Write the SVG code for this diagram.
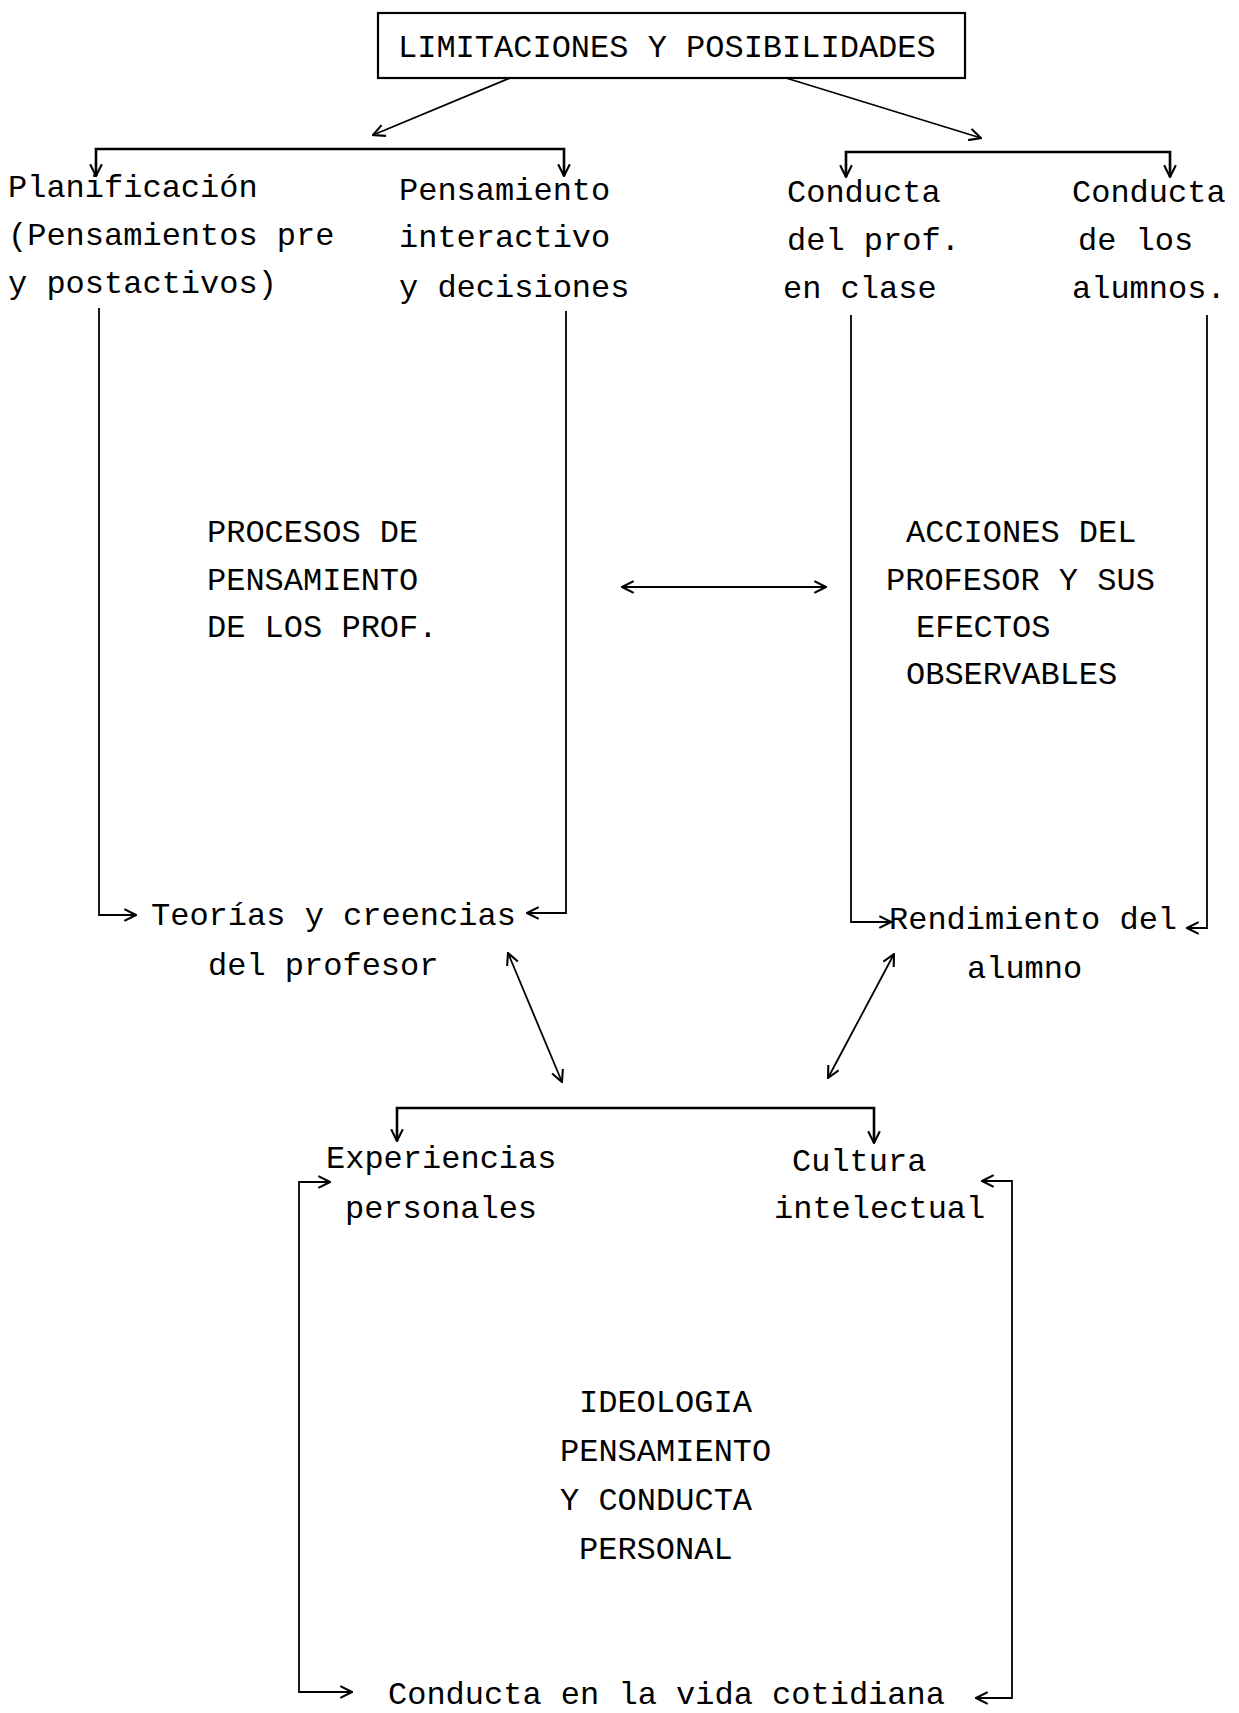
<svg xmlns="http://www.w3.org/2000/svg" width="1239" height="1713" viewBox="0 0 1239 1713">
<defs>
<marker id="ah" viewBox="0 0 12 12" refX="11" refY="6" markerWidth="14" markerHeight="14" markerUnits="userSpaceOnUse" orient="auto-start-reverse">
<path d="M1,1 L11,6 L1,11" fill="none" stroke="#000" stroke-width="1.8"/>
</marker>
</defs>
<style>
text{font-family:"Liberation Mono","DejaVu Sans Mono",monospace;font-size:32px;fill:#000}
.c{fill:none;stroke:#000;stroke-width:1.8}
.b{fill:none;stroke:#000;stroke-width:2.6}
.box{fill:#fff;stroke:#000;stroke-width:2.2}
</style>
<rect width="1239" height="1713" fill="#fff"/>
<g id="connectors">
<line class="c" x1="515" y1="76" x2="373" y2="135" marker-end="url(#ah)"/>
<line class="c" x1="786" y1="78" x2="981" y2="138" marker-end="url(#ah)"/>
<path class="b" d="M96 176 V149 H564 V176" marker-start="url(#ah)" marker-end="url(#ah)"/>
<path class="b" d="M846 177 V152 H1170 V177" marker-start="url(#ah)" marker-end="url(#ah)"/>
<path class="c" d="M99 308 V915 H136" marker-end="url(#ah)"/>
<path class="c" d="M566 311 V913 H527" marker-end="url(#ah)"/>
<path class="c" d="M851 315 V922 H891" marker-end="url(#ah)"/>
<path class="c" d="M1207 315 V928 H1187" marker-end="url(#ah)"/>
<line class="c" x1="622" y1="587" x2="826" y2="587" marker-start="url(#ah)" marker-end="url(#ah)"/>
<line class="c" x1="508" y1="953" x2="562" y2="1082" marker-start="url(#ah)" marker-end="url(#ah)"/>
<line class="c" x1="894" y1="954" x2="828" y2="1078" marker-start="url(#ah)" marker-end="url(#ah)"/>
<path class="b" d="M397 1141 V1108 H874 V1143" marker-start="url(#ah)" marker-end="url(#ah)"/>
<path class="c" d="M330 1182 H299 V1692 H352" marker-start="url(#ah)" marker-end="url(#ah)"/>
<path class="c" d="M982 1181 H1012 V1698 H976" marker-start="url(#ah)" marker-end="url(#ah)"/>
</g>
<g id="n-title">
<rect class="box" x="378" y="13" width="587" height="65"/>
<text x="398" y="57">LIMITACIONES Y POSIBILIDADES</text>
</g>
<g id="n-planificacion">
<text x="8" y="197">Planificación</text>
<text x="8" y="245">(Pensamientos pre</text>
<text x="8" y="293">y postactivos)</text>
</g>
<g id="n-pensamiento">
<text x="399" y="200">Pensamiento</text>
<text x="399" y="247">interactivo</text>
<text x="399" y="297">y decisiones</text>
</g>
<g id="n-conducta-prof">
<text x="787" y="202">Conducta</text>
<text x="787" y="250">del prof.</text>
<text x="783" y="298">en clase</text>
</g>
<g id="n-conducta-alumnos">
<text x="1072" y="202">Conducta</text>
<text x="1078" y="250">de los</text>
<text x="1072" y="298">alumnos.</text>
</g>
<g id="n-procesos">
<text x="207" y="542">PROCESOS DE</text>
<text x="207" y="590">PENSAMIENTO</text>
<text x="207" y="637">DE LOS PROF.</text>
</g>
<g id="n-acciones">
<text x="906" y="542">ACCIONES DEL</text>
<text x="886" y="590">PROFESOR Y SUS</text>
<text x="916" y="637">EFECTOS</text>
<text x="906" y="684">OBSERVABLES</text>
</g>
<g id="n-teorias">
<text x="151" y="925">Teorías y creencias</text>
<text x="208" y="975">del profesor</text>
</g>
<g id="n-rendimiento">
<text x="889" y="929">Rendimiento del</text>
<text x="967" y="978">alumno</text>
</g>
<g id="n-experiencias">
<text x="326" y="1168">Experiencias</text>
<text x="345" y="1218">personales</text>
</g>
<g id="n-cultura">
<text x="792" y="1171">Cultura</text>
<text x="774" y="1218">intelectual</text>
</g>
<g id="n-ideologia">
<text x="579" y="1412">IDEOLOGIA</text>
<text x="560" y="1461">PENSAMIENTO</text>
<text x="560" y="1510">Y CONDUCTA</text>
<text x="579" y="1559">PERSONAL</text>
</g>
<g id="n-conducta-vida">
<text x="388" y="1704">Conducta en la vida cotidiana</text>
</g>
</svg>
